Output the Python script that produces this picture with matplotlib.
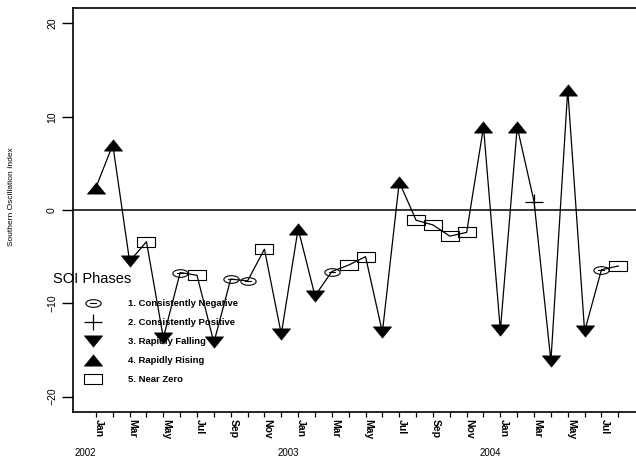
import numpy as np
import matplotlib
matplotlib.use('Agg')  # no display
import matplotlib.pyplot as plt
from matplotlib.path import Path
from matplotlib.lines import Line2D
from matplotlib.transforms import ScaledTranslation, blended_transform_factory

plt.rcParams['font.family'] = ['Liberation Sans', 'DejaVu Sans']

# Monthly SOI values, Jan 2002 - Aug 2004
soi = [2.4, 7.0, -5.5, -3.4, -13.7, -6.7, -7.0, -14.2, -7.4, -7.6, -4.2, -13.3,
       -2.0, -9.2, -6.6, -5.9, -5.0, -13.1, 3.0, -1.1, -1.6, -2.8, -2.4, 8.9,
       -12.9, 8.9, 0.9, -16.2, 12.9, -13.0, -6.4, -6.0]
# SOI phase of each month (1..5)
phase = [4, 4, 3, 5, 3, 1, 5, 3, 1, 1, 5, 3,
         4, 3, 1, 5, 5, 3, 4, 5, 5, 5, 5, 4,
         3, 4, 2, 3, 4, 3, 1, 5]
tick_labels = ['Jan', 'Mar', 'May', 'Jul', 'Sep', 'Nov'] * 2 + ['Jan', 'Mar', 'May', 'Jul']
years = ['2002', '2003', '2004']
phase_names = ['1. Consistently Negative', '2. Consistently Positive',
               '3. Rapidly Falling', '4. Rapidly Rising', '5. Near Zero']

# custom marker shapes
tri_up = Path([(0, 0.62), (-1, -0.62), (1, -0.62), (0, 0.62)],
              [Path.MOVETO, Path.LINETO, Path.LINETO, Path.CLOSEPOLY])
tri_down = Path([(0, -0.62), (-1, 0.62), (1, 0.62), (0, -0.62)],
                [Path.MOVETO, Path.LINETO, Path.LINETO, Path.CLOSEPOLY])
rect = Path([(-1, -0.55), (1, -0.55), (1, 0.55), (-1, 0.55), (-1, -0.55)],
            [Path.MOVETO, Path.LINETO, Path.LINETO, Path.LINETO, Path.CLOSEPOLY])
circ = Path.unit_circle()
ell_outline = Path(circ.vertices * [1, 0.5], circ.codes)
ell_dash = Path([(-0.45, 0), (0.45, 0)], [Path.MOVETO, Path.LINETO])
ellipse = Path.make_compound_path(ell_outline, ell_dash)
plus = Path([(-1, 0), (1, 0), (0, -0.9), (0, 0.9)],
            [Path.MOVETO, Path.LINETO, Path.MOVETO, Path.LINETO])

styles = {
    1: dict(marker=ellipse, markersize=11, markerfacecolor='none', markeredgecolor='black', markeredgewidth=0.8),
    2: dict(marker=plus, markersize=13, markerfacecolor='none', markeredgecolor='black', markeredgewidth=0.9),
    3: dict(marker=tri_down, markersize=13, markerfacecolor='black', markeredgecolor='black', markeredgewidth=0.5),
    4: dict(marker=tri_up, markersize=13, markerfacecolor='black', markeredgecolor='black', markeredgewidth=0.5),
    5: dict(marker=rect, markersize=13, markerfacecolor='none', markeredgecolor='black', markeredgewidth=0.8),
}

W, H = 636, 461
fig = plt.figure(figsize=(W / 100, H / 100), dpi=100)
ax = fig.add_axes([73 / W, 49 / H, 563 / W, 404 / H])

x = np.arange(len(soi))
y = np.array(soi)
ph = np.array(phase)
ax.plot(x, y, color='black', lw=0.9, zorder=2)
for p in range(1, 6):
    m = ph == p
    ax.plot(x[m], y[m], linestyle='none', zorder=3, **styles[p])
ax.axhline(0, color='black', lw=1.1, zorder=1)

ax.set_xlim(-1.36, 32.05)
ax.set_ylim(-21.65, 21.65)

ax.set_xticks(x[::2])
ax.set_xticklabels(tick_labels, rotation=270, fontsize=7.5, fontweight='bold')
ax.set_xticks(x, minor=True)
ax.tick_params(axis='x', which='both', direction='out', length=3.8, width=0.9, pad=1.5)
offset = ScaledTranslation(3 / 100, 0, fig.dpi_scale_trans)
for lbl in ax.get_xticklabels():
    lbl.set_transform(lbl.get_transform() + offset)

ax.set_yticks([-20, -10, 0, 10, 20])
ax.tick_params(axis='y', direction='out', length=8, width=1, pad=3.5, labelrotation=90, labelsize=7.5)
for lbl in ax.get_yticklabels():
    lbl.set_va('center')

for s in ['left', 'top', 'bottom']:
    ax.spines[s].set_linewidth(1.2)
ax.spines['right'].set_visible(False)

# year labels under January of each year
trans = blended_transform_factory(ax.transData, fig.transFigure)
for i, yr in enumerate(years):
    ax.text(12 * i - 0.6, 1 - 453 / H, yr, transform=trans, fontsize=7,
            ha='center', va='center')

fig.text(12 / W, 1 - 197 / H, 'Southern Oscillation Index', rotation=90,
         fontsize=6, ha='center', va='center')

# legend drawn by hand
fig.text(53 / W, 1 - 279 / H, 'SOI Phases', fontsize=10.5, ha='left', va='center')
rows = [303, 322, 341, 360, 379]
for p, name, ry in zip(range(1, 6), phase_names, rows):
    fig.add_artist(Line2D([93 / W], [1 - ry / H], transform=fig.transFigure,
                          linestyle='none', **styles[p]))
    fig.text(128 / W, 1 - ry / H, name, fontsize=6.8, fontweight='bold',
             ha='left', va='center')

fig.savefig('out.png', dpi=100)
